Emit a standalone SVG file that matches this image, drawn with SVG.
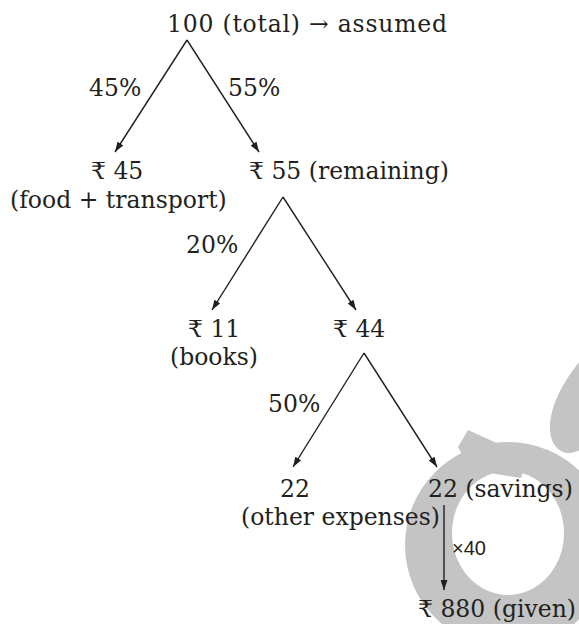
<svg xmlns="http://www.w3.org/2000/svg" width="579" height="624" viewBox="0 0 579 624">
  <style>
    .t { font-family: "DejaVu Serif", "Noto Sans", serif; font-size: 23.5px; fill: #231f20; }
    .s { font-family: "Liberation Sans", Arial, sans-serif; font-size: 20px; fill: #231f20; }
    .c { stroke: #231f20; stroke-width: 1.4; fill: none; marker-end: url(#ah); }
    .wm { fill: #c4c4c4; }
  </style>
  <defs>
    <marker id="ah" markerUnits="userSpaceOnUse" markerWidth="10" markerHeight="7" refX="10" refY="3.5" orient="auto">
      <path d="M0,0 L10,3.5 L0,7 Z" fill="#231f20"/>
    </marker>
  </defs>
  <rect width="579" height="624" fill="#ffffff"/>
  <g id="watermark">
    <path class="wm" fill-rule="evenodd" d="M405 545 A103 103 0 1 0 611 545 A103 103 0 1 0 405 545 Z M452 533 A56 62 0 1 0 564 533 A56 62 0 1 0 452 533 Z"/>
    <polygon class="wm" points="458,447 468,430 528,457 521,478 470,470"/>
    <path class="wm" d="M585 355 C565 378 549 405 550 430 C551 448 563 456 575 452 L595 445 Z"/>
  </g>
  <g id="connectors">
    <line class="c" x1="187" y1="40" x2="115" y2="152"/>
    <line class="c" x1="187" y1="40" x2="259" y2="152"/>
    <line class="c" x1="283" y1="197" x2="212" y2="310"/>
    <line class="c" x1="283" y1="197" x2="356" y2="310"/>
    <line class="c" x1="364" y1="353" x2="293" y2="467"/>
    <line class="c" x1="364" y1="353" x2="437" y2="467"/>
    <line class="c" x1="444" y1="505" x2="444" y2="590"/>
  </g>
  <g id="labels">
    <text class="t" x="89" y="96">45%</text>
    <text class="t" x="228" y="96">55%</text>
    <text class="t" x="186" y="253">20%</text>
    <text class="t" x="268" y="412">50%</text>
    <text class="s" x="452" y="555">×40</text>
  </g>
  <g id="n-total"><text class="t" x="167" y="32" textLength="280">100 (total) → assumed</text></g>
  <g id="n-45"><text class="t" x="91" y="179">₹ 45</text><text class="t" x="10" y="208">(food + transport)</text></g>
  <g id="n-55"><text class="t" x="249" y="179">₹ 55 (remaining)</text></g>
  <g id="n-11"><text class="t" x="188" y="337">₹ 11</text><text class="t" x="170" y="365">(books)</text></g>
  <g id="n-44"><text class="t" x="333" y="337">₹ 44</text></g>
  <g id="n-other"><text class="t" x="280" y="497">22</text><text class="t" x="241" y="525">(other expenses)</text></g>
  <g id="n-savings"><text class="t" x="428" y="497">22 (savings)</text></g>
  <g id="n-given"><text class="t" x="418" y="617">₹ 880 (given)</text></g>
</svg>
